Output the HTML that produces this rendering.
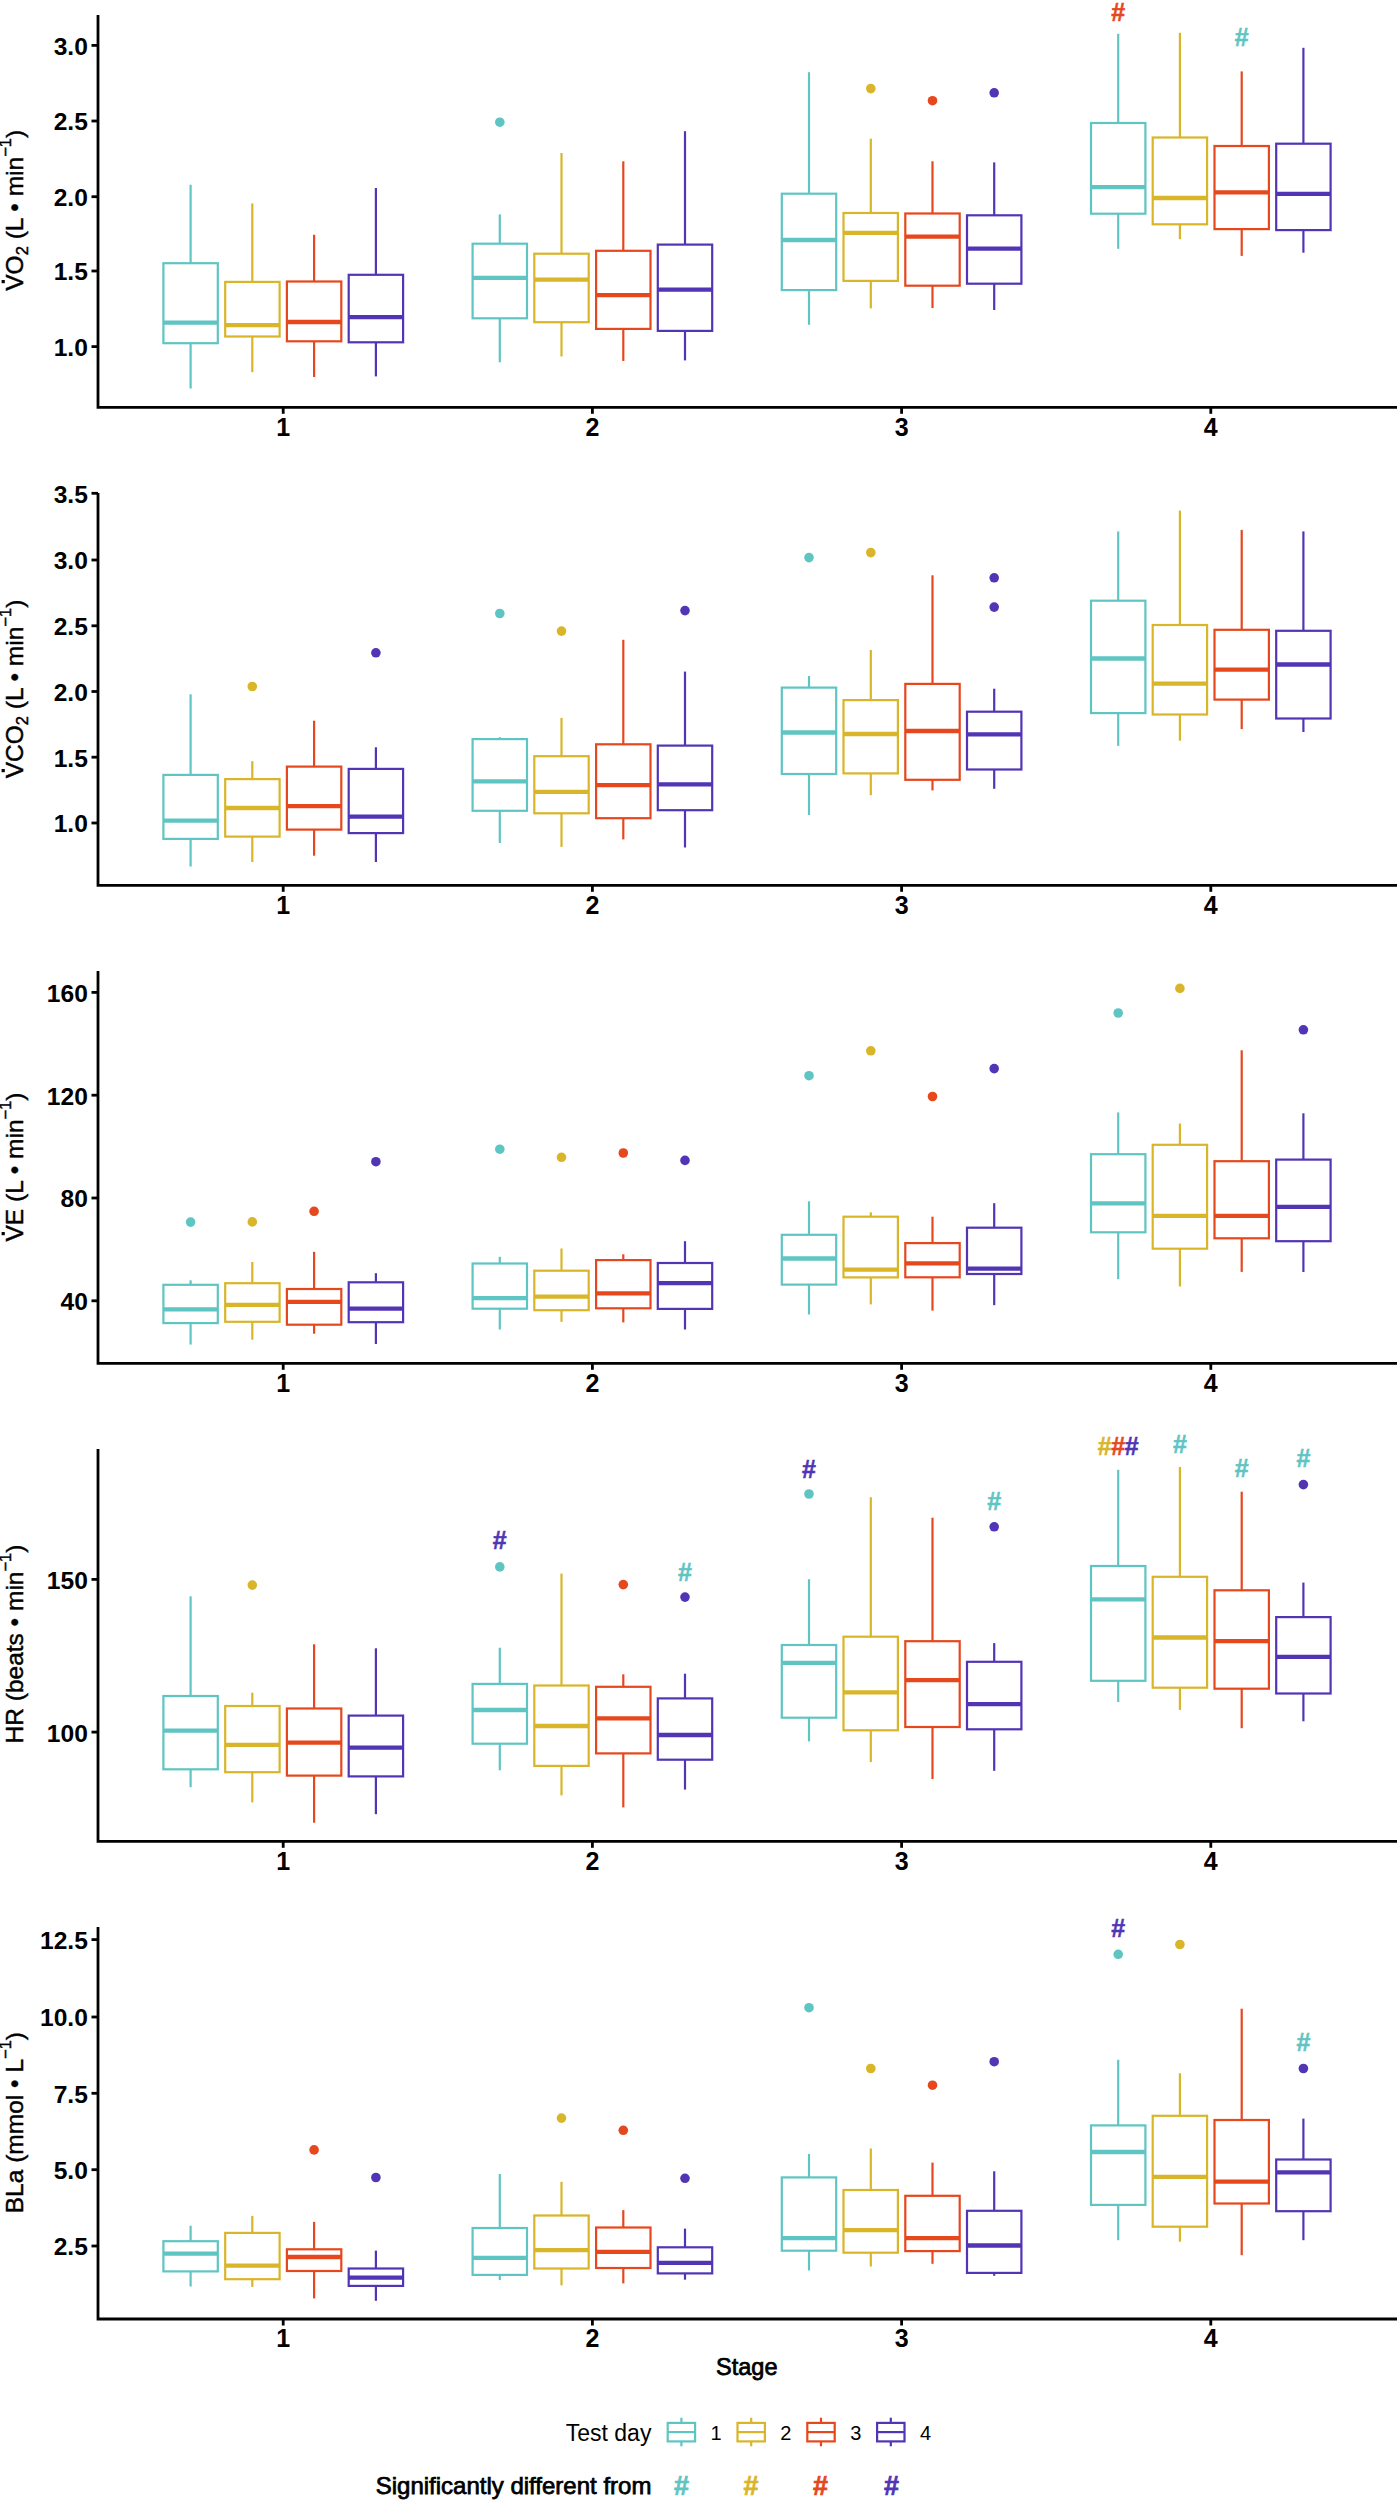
<!DOCTYPE html><html><head><meta charset="utf-8"><style>html,body{margin:0;padding:0;background:#fff;}svg{display:block;}</style></head><body>
<svg width="1400" height="2500" viewBox="0 0 1400 2500" font-family='"Liberation Sans", sans-serif'>
<rect width="1400" height="2500" fill="#fff"/>
<path d="M98.0,15 V407.3 H1397" fill="none" stroke="#000" stroke-width="2.8" stroke-linecap="butt" stroke-linejoin="miter"/>
<line x1="91.5" y1="45.4" x2="98.0" y2="45.4" stroke="#000" stroke-width="2.8"/>
<text x="87.9" y="54.8" text-anchor="end" font-size="24.6" font-weight="bold" fill="#000">3.0</text>
<line x1="91.5" y1="121" x2="98.0" y2="121" stroke="#000" stroke-width="2.8"/>
<text x="87.9" y="130.4" text-anchor="end" font-size="24.6" font-weight="bold" fill="#000">2.5</text>
<line x1="91.5" y1="196.7" x2="98.0" y2="196.7" stroke="#000" stroke-width="2.8"/>
<text x="87.9" y="206.1" text-anchor="end" font-size="24.6" font-weight="bold" fill="#000">2.0</text>
<line x1="91.5" y1="271" x2="98.0" y2="271" stroke="#000" stroke-width="2.8"/>
<text x="87.9" y="280.4" text-anchor="end" font-size="24.6" font-weight="bold" fill="#000">1.5</text>
<line x1="91.5" y1="346.6" x2="98.0" y2="346.6" stroke="#000" stroke-width="2.8"/>
<text x="87.9" y="356.0" text-anchor="end" font-size="24.6" font-weight="bold" fill="#000">1.0</text>
<line x1="283.2" y1="407.3" x2="283.2" y2="413.8" stroke="#000" stroke-width="2.8"/>
<text x="283.2" y="435.90000000000003" text-anchor="middle" font-size="25" font-weight="bold" fill="#000">1</text>
<line x1="592.4" y1="407.3" x2="592.4" y2="413.8" stroke="#000" stroke-width="2.8"/>
<text x="592.4" y="435.90000000000003" text-anchor="middle" font-size="25" font-weight="bold" fill="#000">2</text>
<line x1="901.6" y1="407.3" x2="901.6" y2="413.8" stroke="#000" stroke-width="2.8"/>
<text x="901.6" y="435.90000000000003" text-anchor="middle" font-size="25" font-weight="bold" fill="#000">3</text>
<line x1="1210.7999999999997" y1="407.3" x2="1210.7999999999997" y2="413.8" stroke="#000" stroke-width="2.8"/>
<text x="1210.7999999999997" y="435.90000000000003" text-anchor="middle" font-size="25" font-weight="bold" fill="#000">4</text>
<text id="yt0" transform="translate(23.3,210.3) rotate(-90)" text-anchor="middle" font-size="24.5" fill="#000" stroke="#000" stroke-width="0.45">VO<tspan font-size="16.5" dy="4.5">2</tspan><tspan dy="-4.5"> (L • min</tspan><tspan font-size="16.5" dy="-12">−1</tspan><tspan dy="12">)</tspan></text>
<rect x="1.6" y="280.0" width="3.2" height="3.2" fill="#000"/>
<g stroke="#5fc5c3" fill="none" stroke-width="2.2"><line x1="190.6" y1="184.7" x2="190.6" y2="263.2"/><line x1="190.6" y1="343.2" x2="190.6" y2="388.5"/><rect x="163.4" y="263.2" width="54.4" height="80.0"/><line x1="163.4" y1="322.6" x2="217.8" y2="322.6" stroke-width="4.3"/></g>
<g stroke="#d9b52a" fill="none" stroke-width="2.2"><line x1="252.3" y1="203.4" x2="252.3" y2="281.9"/><line x1="252.3" y1="336.5" x2="252.3" y2="372.2"/><rect x="225.2" y="281.9" width="54.4" height="54.6"/><line x1="225.2" y1="325.1" x2="279.6" y2="325.1" stroke-width="4.3"/></g>
<g stroke="#e6471d" fill="none" stroke-width="2.2"><line x1="314.1" y1="234.8" x2="314.1" y2="281.5"/><line x1="314.1" y1="341.3" x2="314.1" y2="377"/><rect x="286.9" y="281.5" width="54.4" height="59.8"/><line x1="286.9" y1="322" x2="341.3" y2="322" stroke-width="4.3"/></g>
<g stroke="#5135b5" fill="none" stroke-width="2.2"><line x1="375.9" y1="188" x2="375.9" y2="274.8"/><line x1="375.9" y1="342.3" x2="375.9" y2="376.4"/><rect x="348.7" y="274.8" width="54.4" height="67.5"/><line x1="348.7" y1="317.2" x2="403.1" y2="317.2" stroke-width="4.3"/></g>
<g stroke="#5fc5c3" fill="none" stroke-width="2.2"><line x1="499.8" y1="214.4" x2="499.8" y2="243.7"/><line x1="499.8" y1="318.3" x2="499.8" y2="362.3"/><rect x="472.6" y="243.7" width="54.4" height="74.6"/><line x1="472.6" y1="277.8" x2="527.0" y2="277.8" stroke-width="4.3"/></g>
<g stroke="#d9b52a" fill="none" stroke-width="2.2"><line x1="561.5" y1="153" x2="561.5" y2="253.7"/><line x1="561.5" y1="322.2" x2="561.5" y2="356.5"/><rect x="534.3" y="253.7" width="54.4" height="68.5"/><line x1="534.3" y1="279.7" x2="588.8" y2="279.7" stroke-width="4.3"/></g>
<g stroke="#e6471d" fill="none" stroke-width="2.2"><line x1="623.3" y1="161.3" x2="623.3" y2="250.8"/><line x1="623.3" y1="328.9" x2="623.3" y2="361"/><rect x="596.1" y="250.8" width="54.4" height="78.1"/><line x1="596.1" y1="295.2" x2="650.5" y2="295.2" stroke-width="4.3"/></g>
<g stroke="#5135b5" fill="none" stroke-width="2.2"><line x1="685.0" y1="131.2" x2="685.0" y2="244.6"/><line x1="685.0" y1="330.9" x2="685.0" y2="360.4"/><rect x="657.8" y="244.6" width="54.4" height="86.3"/><line x1="657.8" y1="289.6" x2="712.2" y2="289.6" stroke-width="4.3"/></g>
<g stroke="#5fc5c3" fill="none" stroke-width="2.2"><line x1="809.0" y1="72.2" x2="809.0" y2="193.7"/><line x1="809.0" y1="290.1" x2="809.0" y2="324.8"/><rect x="781.8" y="193.7" width="54.4" height="96.4"/><line x1="781.8" y1="240" x2="836.2" y2="240" stroke-width="4.3"/></g>
<g stroke="#d9b52a" fill="none" stroke-width="2.2"><line x1="870.8" y1="138.7" x2="870.8" y2="213"/><line x1="870.8" y1="280.9" x2="870.8" y2="308.4"/><rect x="843.5" y="213" width="54.4" height="67.9"/><line x1="843.5" y1="232.8" x2="898.0" y2="232.8" stroke-width="4.3"/></g>
<g stroke="#e6471d" fill="none" stroke-width="2.2"><line x1="932.5" y1="161.3" x2="932.5" y2="213.5"/><line x1="932.5" y1="285.7" x2="932.5" y2="308"/><rect x="905.3" y="213.5" width="54.4" height="72.2"/><line x1="905.3" y1="236.7" x2="959.7" y2="236.7" stroke-width="4.3"/></g>
<g stroke="#5135b5" fill="none" stroke-width="2.2"><line x1="994.2" y1="162.4" x2="994.2" y2="215.3"/><line x1="994.2" y1="283.7" x2="994.2" y2="310"/><rect x="967.0" y="215.3" width="54.4" height="68.4"/><line x1="967.0" y1="248.7" x2="1021.5" y2="248.7" stroke-width="4.3"/></g>
<g stroke="#5fc5c3" fill="none" stroke-width="2.2"><line x1="1118.2" y1="33.8" x2="1118.2" y2="123"/><line x1="1118.2" y1="213.7" x2="1118.2" y2="248.8"/><rect x="1091.0" y="123" width="54.4" height="90.7"/><line x1="1091.0" y1="187.1" x2="1145.4" y2="187.1" stroke-width="4.3"/></g>
<g stroke="#d9b52a" fill="none" stroke-width="2.2"><line x1="1179.9" y1="32.8" x2="1179.9" y2="137.5"/><line x1="1179.9" y1="224.3" x2="1179.9" y2="239.2"/><rect x="1152.7" y="137.5" width="54.4" height="86.8"/><line x1="1152.7" y1="198" x2="1207.1" y2="198" stroke-width="4.3"/></g>
<g stroke="#e6471d" fill="none" stroke-width="2.2"><line x1="1241.7" y1="71.4" x2="1241.7" y2="146"/><line x1="1241.7" y1="229.1" x2="1241.7" y2="255.9"/><rect x="1214.5" y="146" width="54.4" height="83.1"/><line x1="1214.5" y1="192.3" x2="1268.9" y2="192.3" stroke-width="4.3"/></g>
<g stroke="#5135b5" fill="none" stroke-width="2.2"><line x1="1303.4" y1="47.8" x2="1303.4" y2="143.7"/><line x1="1303.4" y1="230.1" x2="1303.4" y2="252.7"/><rect x="1276.2" y="143.7" width="54.4" height="86.4"/><line x1="1276.2" y1="193.8" x2="1330.6" y2="193.8" stroke-width="4.3"/></g>
<path d="M98.0,493 V885.3 H1397" fill="none" stroke="#000" stroke-width="2.8" stroke-linecap="butt" stroke-linejoin="miter"/>
<line x1="91.5" y1="493.3" x2="98.0" y2="493.3" stroke="#000" stroke-width="2.8"/>
<text x="87.9" y="502.7" text-anchor="end" font-size="24.6" font-weight="bold" fill="#000">3.5</text>
<line x1="91.5" y1="560" x2="98.0" y2="560" stroke="#000" stroke-width="2.8"/>
<text x="87.9" y="569.4" text-anchor="end" font-size="24.6" font-weight="bold" fill="#000">3.0</text>
<line x1="91.5" y1="625.8" x2="98.0" y2="625.8" stroke="#000" stroke-width="2.8"/>
<text x="87.9" y="635.1999999999999" text-anchor="end" font-size="24.6" font-weight="bold" fill="#000">2.5</text>
<line x1="91.5" y1="691.5" x2="98.0" y2="691.5" stroke="#000" stroke-width="2.8"/>
<text x="87.9" y="700.9" text-anchor="end" font-size="24.6" font-weight="bold" fill="#000">2.0</text>
<line x1="91.5" y1="757.2" x2="98.0" y2="757.2" stroke="#000" stroke-width="2.8"/>
<text x="87.9" y="766.6" text-anchor="end" font-size="24.6" font-weight="bold" fill="#000">1.5</text>
<line x1="91.5" y1="823" x2="98.0" y2="823" stroke="#000" stroke-width="2.8"/>
<text x="87.9" y="832.4" text-anchor="end" font-size="24.6" font-weight="bold" fill="#000">1.0</text>
<line x1="283.2" y1="885.3" x2="283.2" y2="891.8" stroke="#000" stroke-width="2.8"/>
<text x="283.2" y="913.9" text-anchor="middle" font-size="25" font-weight="bold" fill="#000">1</text>
<line x1="592.4" y1="885.3" x2="592.4" y2="891.8" stroke="#000" stroke-width="2.8"/>
<text x="592.4" y="913.9" text-anchor="middle" font-size="25" font-weight="bold" fill="#000">2</text>
<line x1="901.6" y1="885.3" x2="901.6" y2="891.8" stroke="#000" stroke-width="2.8"/>
<text x="901.6" y="913.9" text-anchor="middle" font-size="25" font-weight="bold" fill="#000">3</text>
<line x1="1210.7999999999997" y1="885.3" x2="1210.7999999999997" y2="891.8" stroke="#000" stroke-width="2.8"/>
<text x="1210.7999999999997" y="913.9" text-anchor="middle" font-size="25" font-weight="bold" fill="#000">4</text>
<text id="yt1" transform="translate(23.3,689) rotate(-90)" text-anchor="middle" font-size="24.5" fill="#000" stroke="#000" stroke-width="0.45">VCO<tspan font-size="16.5" dy="4.5">2</tspan><tspan dy="-4.5"> (L • min</tspan><tspan font-size="16.5" dy="-12">−1</tspan><tspan dy="12">)</tspan></text>
<rect x="1.6" y="769.0" width="3.2" height="3.2" fill="#000"/>
<g stroke="#5fc5c3" fill="none" stroke-width="2.2"><line x1="190.6" y1="694.3" x2="190.6" y2="774.9"/><line x1="190.6" y1="838.9" x2="190.6" y2="866.5"/><rect x="163.4" y="774.9" width="54.4" height="64.0"/><line x1="163.4" y1="820.6" x2="217.8" y2="820.6" stroke-width="4.3"/></g>
<g stroke="#d9b52a" fill="none" stroke-width="2.2"><line x1="252.3" y1="761.2" x2="252.3" y2="779.1"/><line x1="252.3" y1="836.6" x2="252.3" y2="862"/><rect x="225.2" y="779.1" width="54.4" height="57.5"/><line x1="225.2" y1="808" x2="279.6" y2="808" stroke-width="4.3"/></g>
<g stroke="#e6471d" fill="none" stroke-width="2.2"><line x1="314.1" y1="720.7" x2="314.1" y2="766.6"/><line x1="314.1" y1="829.6" x2="314.1" y2="855.7"/><rect x="286.9" y="766.6" width="54.4" height="63.0"/><line x1="286.9" y1="806.1" x2="341.3" y2="806.1" stroke-width="4.3"/></g>
<g stroke="#5135b5" fill="none" stroke-width="2.2"><line x1="375.9" y1="747.3" x2="375.9" y2="768.9"/><line x1="375.9" y1="833.1" x2="375.9" y2="862"/><rect x="348.7" y="768.9" width="54.4" height="64.2"/><line x1="348.7" y1="816.7" x2="403.1" y2="816.7" stroke-width="4.3"/></g>
<g stroke="#5fc5c3" fill="none" stroke-width="2.2"><line x1="499.8" y1="737.2" x2="499.8" y2="739.1"/><line x1="499.8" y1="810.8" x2="499.8" y2="843"/><rect x="472.6" y="739.1" width="54.4" height="71.7"/><line x1="472.6" y1="781.3" x2="527.0" y2="781.3" stroke-width="4.3"/></g>
<g stroke="#d9b52a" fill="none" stroke-width="2.2"><line x1="561.5" y1="717.9" x2="561.5" y2="756.2"/><line x1="561.5" y1="813.3" x2="561.5" y2="846.9"/><rect x="534.3" y="756.2" width="54.4" height="57.1"/><line x1="534.3" y1="791.9" x2="588.8" y2="791.9" stroke-width="4.3"/></g>
<g stroke="#e6471d" fill="none" stroke-width="2.2"><line x1="623.3" y1="639.8" x2="623.3" y2="744.3"/><line x1="623.3" y1="818.2" x2="623.3" y2="839.4"/><rect x="596.1" y="744.3" width="54.4" height="73.9"/><line x1="596.1" y1="785.2" x2="650.5" y2="785.2" stroke-width="4.3"/></g>
<g stroke="#5135b5" fill="none" stroke-width="2.2"><line x1="685.0" y1="671.6" x2="685.0" y2="745.6"/><line x1="685.0" y1="810.2" x2="685.0" y2="847.5"/><rect x="657.8" y="745.6" width="54.4" height="64.6"/><line x1="657.8" y1="784.4" x2="712.2" y2="784.4" stroke-width="4.3"/></g>
<g stroke="#5fc5c3" fill="none" stroke-width="2.2"><line x1="809.0" y1="676" x2="809.0" y2="687.6"/><line x1="809.0" y1="774" x2="809.0" y2="815"/><rect x="781.8" y="687.6" width="54.4" height="86.4"/><line x1="781.8" y1="732.5" x2="836.2" y2="732.5" stroke-width="4.3"/></g>
<g stroke="#d9b52a" fill="none" stroke-width="2.2"><line x1="870.8" y1="650" x2="870.8" y2="700.1"/><line x1="870.8" y1="773.4" x2="870.8" y2="795.2"/><rect x="843.5" y="700.1" width="54.4" height="73.3"/><line x1="843.5" y1="734" x2="898.0" y2="734" stroke-width="4.3"/></g>
<g stroke="#e6471d" fill="none" stroke-width="2.2"><line x1="932.5" y1="575.3" x2="932.5" y2="683.9"/><line x1="932.5" y1="779.8" x2="932.5" y2="790.4"/><rect x="905.3" y="683.9" width="54.4" height="95.9"/><line x1="905.3" y1="731" x2="959.7" y2="731" stroke-width="4.3"/></g>
<g stroke="#5135b5" fill="none" stroke-width="2.2"><line x1="994.2" y1="688.7" x2="994.2" y2="711.7"/><line x1="994.2" y1="769.5" x2="994.2" y2="788.8"/><rect x="967.0" y="711.7" width="54.4" height="57.8"/><line x1="967.0" y1="734.4" x2="1021.5" y2="734.4" stroke-width="4.3"/></g>
<g stroke="#5fc5c3" fill="none" stroke-width="2.2"><line x1="1118.2" y1="531.4" x2="1118.2" y2="600.7"/><line x1="1118.2" y1="713.1" x2="1118.2" y2="745.9"/><rect x="1091.0" y="600.7" width="54.4" height="112.4"/><line x1="1091.0" y1="658.5" x2="1145.4" y2="658.5" stroke-width="4.3"/></g>
<g stroke="#d9b52a" fill="none" stroke-width="2.2"><line x1="1179.9" y1="510.6" x2="1179.9" y2="625"/><line x1="1179.9" y1="714.5" x2="1179.9" y2="740.7"/><rect x="1152.7" y="625" width="54.4" height="89.5"/><line x1="1152.7" y1="683.6" x2="1207.1" y2="683.6" stroke-width="4.3"/></g>
<g stroke="#e6471d" fill="none" stroke-width="2.2"><line x1="1241.7" y1="529.9" x2="1241.7" y2="629.8"/><line x1="1241.7" y1="699.6" x2="1241.7" y2="729.1"/><rect x="1214.5" y="629.8" width="54.4" height="69.8"/><line x1="1214.5" y1="669.7" x2="1268.9" y2="669.7" stroke-width="4.3"/></g>
<g stroke="#5135b5" fill="none" stroke-width="2.2"><line x1="1303.4" y1="531.4" x2="1303.4" y2="630.8"/><line x1="1303.4" y1="718.5" x2="1303.4" y2="732"/><rect x="1276.2" y="630.8" width="54.4" height="87.7"/><line x1="1276.2" y1="664.5" x2="1330.6" y2="664.5" stroke-width="4.3"/></g>
<path d="M98.0,971 V1363.3 H1397" fill="none" stroke="#000" stroke-width="2.8" stroke-linecap="butt" stroke-linejoin="miter"/>
<line x1="91.5" y1="992.4" x2="98.0" y2="992.4" stroke="#000" stroke-width="2.8"/>
<text x="87.9" y="1001.8" text-anchor="end" font-size="24.6" font-weight="bold" fill="#000">160</text>
<line x1="91.5" y1="1095.2" x2="98.0" y2="1095.2" stroke="#000" stroke-width="2.8"/>
<text x="87.9" y="1104.6000000000001" text-anchor="end" font-size="24.6" font-weight="bold" fill="#000">120</text>
<line x1="91.5" y1="1198" x2="98.0" y2="1198" stroke="#000" stroke-width="2.8"/>
<text x="87.9" y="1207.4" text-anchor="end" font-size="24.6" font-weight="bold" fill="#000">80</text>
<line x1="91.5" y1="1300.8" x2="98.0" y2="1300.8" stroke="#000" stroke-width="2.8"/>
<text x="87.9" y="1310.2" text-anchor="end" font-size="24.6" font-weight="bold" fill="#000">40</text>
<line x1="283.2" y1="1363.3" x2="283.2" y2="1369.8" stroke="#000" stroke-width="2.8"/>
<text x="283.2" y="1391.8999999999999" text-anchor="middle" font-size="25" font-weight="bold" fill="#000">1</text>
<line x1="592.4" y1="1363.3" x2="592.4" y2="1369.8" stroke="#000" stroke-width="2.8"/>
<text x="592.4" y="1391.8999999999999" text-anchor="middle" font-size="25" font-weight="bold" fill="#000">2</text>
<line x1="901.6" y1="1363.3" x2="901.6" y2="1369.8" stroke="#000" stroke-width="2.8"/>
<text x="901.6" y="1391.8999999999999" text-anchor="middle" font-size="25" font-weight="bold" fill="#000">3</text>
<line x1="1210.7999999999997" y1="1363.3" x2="1210.7999999999997" y2="1369.8" stroke="#000" stroke-width="2.8"/>
<text x="1210.7999999999997" y="1391.8999999999999" text-anchor="middle" font-size="25" font-weight="bold" fill="#000">4</text>
<text id="yt2" transform="translate(23.3,1167) rotate(-90)" text-anchor="middle" font-size="24.5" fill="#000" stroke="#000" stroke-width="0.45">VE (L • min<tspan font-size="16.5" dy="-12">−1</tspan><tspan dy="12">)</tspan></text>
<rect x="1.6" y="1232.0" width="3.2" height="3.2" fill="#000"/>
<g stroke="#5fc5c3" fill="none" stroke-width="2.2"><line x1="190.6" y1="1280.3" x2="190.6" y2="1284.8"/><line x1="190.6" y1="1323.1" x2="190.6" y2="1344.6"/><rect x="163.4" y="1284.8" width="54.4" height="38.3"/><line x1="163.4" y1="1309.3" x2="217.8" y2="1309.3" stroke-width="4.3"/></g>
<g stroke="#d9b52a" fill="none" stroke-width="2.2"><line x1="252.3" y1="1262" x2="252.3" y2="1283.2"/><line x1="252.3" y1="1321.8" x2="252.3" y2="1339.7"/><rect x="225.2" y="1283.2" width="54.4" height="38.6"/><line x1="225.2" y1="1304.8" x2="279.6" y2="1304.8" stroke-width="4.3"/></g>
<g stroke="#e6471d" fill="none" stroke-width="2.2"><line x1="314.1" y1="1251.8" x2="314.1" y2="1289"/><line x1="314.1" y1="1324.7" x2="314.1" y2="1333.7"/><rect x="286.9" y="1289" width="54.4" height="35.7"/><line x1="286.9" y1="1301.9" x2="341.3" y2="1301.9" stroke-width="4.3"/></g>
<g stroke="#5135b5" fill="none" stroke-width="2.2"><line x1="375.9" y1="1273.2" x2="375.9" y2="1282.3"/><line x1="375.9" y1="1322.2" x2="375.9" y2="1344"/><rect x="348.7" y="1282.3" width="54.4" height="39.9"/><line x1="348.7" y1="1308.7" x2="403.1" y2="1308.7" stroke-width="4.3"/></g>
<g stroke="#5fc5c3" fill="none" stroke-width="2.2"><line x1="499.8" y1="1256.8" x2="499.8" y2="1263.5"/><line x1="499.8" y1="1308.7" x2="499.8" y2="1329.5"/><rect x="472.6" y="1263.5" width="54.4" height="45.2"/><line x1="472.6" y1="1298.1" x2="527.0" y2="1298.1" stroke-width="4.3"/></g>
<g stroke="#d9b52a" fill="none" stroke-width="2.2"><line x1="561.5" y1="1248.5" x2="561.5" y2="1270.7"/><line x1="561.5" y1="1310.2" x2="561.5" y2="1321.8"/><rect x="534.3" y="1270.7" width="54.4" height="39.5"/><line x1="534.3" y1="1296.7" x2="588.8" y2="1296.7" stroke-width="4.3"/></g>
<g stroke="#e6471d" fill="none" stroke-width="2.2"><line x1="623.3" y1="1254.3" x2="623.3" y2="1260.1"/><line x1="623.3" y1="1308.3" x2="623.3" y2="1322.4"/><rect x="596.1" y="1260.1" width="54.4" height="48.2"/><line x1="596.1" y1="1293.4" x2="650.5" y2="1293.4" stroke-width="4.3"/></g>
<g stroke="#5135b5" fill="none" stroke-width="2.2"><line x1="685.0" y1="1241.2" x2="685.0" y2="1263"/><line x1="685.0" y1="1308.9" x2="685.0" y2="1329.5"/><rect x="657.8" y="1263" width="54.4" height="45.9"/><line x1="657.8" y1="1283.2" x2="712.2" y2="1283.2" stroke-width="4.3"/></g>
<g stroke="#5fc5c3" fill="none" stroke-width="2.2"><line x1="809.0" y1="1201.3" x2="809.0" y2="1234.8"/><line x1="809.0" y1="1284.6" x2="809.0" y2="1314.5"/><rect x="781.8" y="1234.8" width="54.4" height="49.8"/><line x1="781.8" y1="1258.5" x2="836.2" y2="1258.5" stroke-width="4.3"/></g>
<g stroke="#d9b52a" fill="none" stroke-width="2.2"><line x1="870.8" y1="1212.3" x2="870.8" y2="1216.7"/><line x1="870.8" y1="1277.4" x2="870.8" y2="1304.4"/><rect x="843.5" y="1216.7" width="54.4" height="60.7"/><line x1="843.5" y1="1269.7" x2="898.0" y2="1269.7" stroke-width="4.3"/></g>
<g stroke="#e6471d" fill="none" stroke-width="2.2"><line x1="932.5" y1="1216.7" x2="932.5" y2="1243.1"/><line x1="932.5" y1="1277.3" x2="932.5" y2="1310.6"/><rect x="905.3" y="1243.1" width="54.4" height="34.2"/><line x1="905.3" y1="1263.4" x2="959.7" y2="1263.4" stroke-width="4.3"/></g>
<g stroke="#5135b5" fill="none" stroke-width="2.2"><line x1="994.2" y1="1203.2" x2="994.2" y2="1227.7"/><line x1="994.2" y1="1274" x2="994.2" y2="1305.2"/><rect x="967.0" y="1227.7" width="54.4" height="46.3"/><line x1="967.0" y1="1268.6" x2="1021.5" y2="1268.6" stroke-width="4.3"/></g>
<g stroke="#5fc5c3" fill="none" stroke-width="2.2"><line x1="1118.2" y1="1112.4" x2="1118.2" y2="1154.2"/><line x1="1118.2" y1="1232.3" x2="1118.2" y2="1279.2"/><rect x="1091.0" y="1154.2" width="54.4" height="78.1"/><line x1="1091.0" y1="1203.4" x2="1145.4" y2="1203.4" stroke-width="4.3"/></g>
<g stroke="#d9b52a" fill="none" stroke-width="2.2"><line x1="1179.9" y1="1123.5" x2="1179.9" y2="1144.8"/><line x1="1179.9" y1="1248.7" x2="1179.9" y2="1286.5"/><rect x="1152.7" y="1144.8" width="54.4" height="103.9"/><line x1="1152.7" y1="1215.9" x2="1207.1" y2="1215.9" stroke-width="4.3"/></g>
<g stroke="#e6471d" fill="none" stroke-width="2.2"><line x1="1241.7" y1="1050.3" x2="1241.7" y2="1161.2"/><line x1="1241.7" y1="1238.3" x2="1241.7" y2="1271.9"/><rect x="1214.5" y="1161.2" width="54.4" height="77.1"/><line x1="1214.5" y1="1215.9" x2="1268.9" y2="1215.9" stroke-width="4.3"/></g>
<g stroke="#5135b5" fill="none" stroke-width="2.2"><line x1="1303.4" y1="1113.3" x2="1303.4" y2="1159.6"/><line x1="1303.4" y1="1241.2" x2="1303.4" y2="1272"/><rect x="1276.2" y="1159.6" width="54.4" height="81.6"/><line x1="1276.2" y1="1206.9" x2="1330.6" y2="1206.9" stroke-width="4.3"/></g>
<path d="M98.0,1449 V1841.3 H1397" fill="none" stroke="#000" stroke-width="2.8" stroke-linecap="butt" stroke-linejoin="miter"/>
<line x1="91.5" y1="1579.4" x2="98.0" y2="1579.4" stroke="#000" stroke-width="2.8"/>
<text x="87.9" y="1588.8000000000002" text-anchor="end" font-size="24.6" font-weight="bold" fill="#000">150</text>
<line x1="91.5" y1="1732.1" x2="98.0" y2="1732.1" stroke="#000" stroke-width="2.8"/>
<text x="87.9" y="1741.5" text-anchor="end" font-size="24.6" font-weight="bold" fill="#000">100</text>
<line x1="283.2" y1="1841.3" x2="283.2" y2="1847.8" stroke="#000" stroke-width="2.8"/>
<text x="283.2" y="1869.8999999999999" text-anchor="middle" font-size="25" font-weight="bold" fill="#000">1</text>
<line x1="592.4" y1="1841.3" x2="592.4" y2="1847.8" stroke="#000" stroke-width="2.8"/>
<text x="592.4" y="1869.8999999999999" text-anchor="middle" font-size="25" font-weight="bold" fill="#000">2</text>
<line x1="901.6" y1="1841.3" x2="901.6" y2="1847.8" stroke="#000" stroke-width="2.8"/>
<text x="901.6" y="1869.8999999999999" text-anchor="middle" font-size="25" font-weight="bold" fill="#000">3</text>
<line x1="1210.7999999999997" y1="1841.3" x2="1210.7999999999997" y2="1847.8" stroke="#000" stroke-width="2.8"/>
<text x="1210.7999999999997" y="1869.8999999999999" text-anchor="middle" font-size="25" font-weight="bold" fill="#000">4</text>
<text id="yt3" transform="translate(23.3,1644) rotate(-90)" text-anchor="middle" font-size="24.5" fill="#000" stroke="#000" stroke-width="0.45">HR (beats • min<tspan font-size="16.5" dy="-12">−1</tspan><tspan dy="12">)</tspan></text>
<g stroke="#5fc5c3" fill="none" stroke-width="2.2"><line x1="190.6" y1="1596.3" x2="190.6" y2="1696"/><line x1="190.6" y1="1769.3" x2="190.6" y2="1787.2"/><rect x="163.4" y="1696" width="54.4" height="73.3"/><line x1="163.4" y1="1730.7" x2="217.8" y2="1730.7" stroke-width="4.3"/></g>
<g stroke="#d9b52a" fill="none" stroke-width="2.2"><line x1="252.3" y1="1692.7" x2="252.3" y2="1706"/><line x1="252.3" y1="1772.2" x2="252.3" y2="1802.4"/><rect x="225.2" y="1706" width="54.4" height="66.2"/><line x1="225.2" y1="1744.8" x2="279.6" y2="1744.8" stroke-width="4.3"/></g>
<g stroke="#e6471d" fill="none" stroke-width="2.2"><line x1="314.1" y1="1644.3" x2="314.1" y2="1708.5"/><line x1="314.1" y1="1775.6" x2="314.1" y2="1822.7"/><rect x="286.9" y="1708.5" width="54.4" height="67.1"/><line x1="286.9" y1="1742.6" x2="341.3" y2="1742.6" stroke-width="4.3"/></g>
<g stroke="#5135b5" fill="none" stroke-width="2.2"><line x1="375.9" y1="1648.3" x2="375.9" y2="1715.6"/><line x1="375.9" y1="1776.4" x2="375.9" y2="1814.2"/><rect x="348.7" y="1715.6" width="54.4" height="60.8"/><line x1="348.7" y1="1747.7" x2="403.1" y2="1747.7" stroke-width="4.3"/></g>
<g stroke="#5fc5c3" fill="none" stroke-width="2.2"><line x1="499.8" y1="1647.7" x2="499.8" y2="1683.9"/><line x1="499.8" y1="1743.7" x2="499.8" y2="1770.3"/><rect x="472.6" y="1683.9" width="54.4" height="59.8"/><line x1="472.6" y1="1710" x2="527.0" y2="1710" stroke-width="4.3"/></g>
<g stroke="#d9b52a" fill="none" stroke-width="2.2"><line x1="561.5" y1="1573.6" x2="561.5" y2="1685.5"/><line x1="561.5" y1="1765.9" x2="561.5" y2="1795.4"/><rect x="534.3" y="1685.5" width="54.4" height="80.4"/><line x1="534.3" y1="1726" x2="588.8" y2="1726" stroke-width="4.3"/></g>
<g stroke="#e6471d" fill="none" stroke-width="2.2"><line x1="623.3" y1="1674.3" x2="623.3" y2="1686.8"/><line x1="623.3" y1="1753.4" x2="623.3" y2="1807.4"/><rect x="596.1" y="1686.8" width="54.4" height="66.6"/><line x1="596.1" y1="1718.3" x2="650.5" y2="1718.3" stroke-width="4.3"/></g>
<g stroke="#5135b5" fill="none" stroke-width="2.2"><line x1="685.0" y1="1673.7" x2="685.0" y2="1698.4"/><line x1="685.0" y1="1759.7" x2="685.0" y2="1789.6"/><rect x="657.8" y="1698.4" width="54.4" height="61.3"/><line x1="657.8" y1="1735" x2="712.2" y2="1735" stroke-width="4.3"/></g>
<g stroke="#5fc5c3" fill="none" stroke-width="2.2"><line x1="809.0" y1="1579.2" x2="809.0" y2="1645"/><line x1="809.0" y1="1717.7" x2="809.0" y2="1741.4"/><rect x="781.8" y="1645" width="54.4" height="72.7"/><line x1="781.8" y1="1662.8" x2="836.2" y2="1662.8" stroke-width="4.3"/></g>
<g stroke="#d9b52a" fill="none" stroke-width="2.2"><line x1="870.8" y1="1497.3" x2="870.8" y2="1636.7"/><line x1="870.8" y1="1730.3" x2="870.8" y2="1762.1"/><rect x="843.5" y="1636.7" width="54.4" height="93.6"/><line x1="843.5" y1="1692.3" x2="898.0" y2="1692.3" stroke-width="4.3"/></g>
<g stroke="#e6471d" fill="none" stroke-width="2.2"><line x1="932.5" y1="1517.7" x2="932.5" y2="1641.2"/><line x1="932.5" y1="1727" x2="932.5" y2="1779"/><rect x="905.3" y="1641.2" width="54.4" height="85.8"/><line x1="905.3" y1="1680.1" x2="959.7" y2="1680.1" stroke-width="4.3"/></g>
<g stroke="#5135b5" fill="none" stroke-width="2.2"><line x1="994.2" y1="1643.1" x2="994.2" y2="1661.8"/><line x1="994.2" y1="1729.3" x2="994.2" y2="1770.8"/><rect x="967.0" y="1661.8" width="54.4" height="67.5"/><line x1="967.0" y1="1704.2" x2="1021.5" y2="1704.2" stroke-width="4.3"/></g>
<g stroke="#5fc5c3" fill="none" stroke-width="2.2"><line x1="1118.2" y1="1469.8" x2="1118.2" y2="1566"/><line x1="1118.2" y1="1680.8" x2="1118.2" y2="1702"/><rect x="1091.0" y="1566" width="54.4" height="114.8"/><line x1="1091.0" y1="1599.4" x2="1145.4" y2="1599.4" stroke-width="4.3"/></g>
<g stroke="#d9b52a" fill="none" stroke-width="2.2"><line x1="1179.9" y1="1466.9" x2="1179.9" y2="1576.8"/><line x1="1179.9" y1="1687.7" x2="1179.9" y2="1709.9"/><rect x="1152.7" y="1576.8" width="54.4" height="110.9"/><line x1="1152.7" y1="1637.5" x2="1207.1" y2="1637.5" stroke-width="4.3"/></g>
<g stroke="#e6471d" fill="none" stroke-width="2.2"><line x1="1241.7" y1="1491.7" x2="1241.7" y2="1590.3"/><line x1="1241.7" y1="1688.7" x2="1241.7" y2="1728.2"/><rect x="1214.5" y="1590.3" width="54.4" height="98.4"/><line x1="1214.5" y1="1641.2" x2="1268.9" y2="1641.2" stroke-width="4.3"/></g>
<g stroke="#5135b5" fill="none" stroke-width="2.2"><line x1="1303.4" y1="1582.6" x2="1303.4" y2="1617.1"/><line x1="1303.4" y1="1693.5" x2="1303.4" y2="1721.3"/><rect x="1276.2" y="1617.1" width="54.4" height="76.4"/><line x1="1276.2" y1="1656.8" x2="1330.6" y2="1656.8" stroke-width="4.3"/></g>
<path d="M98.0,1927 V2319 H1397" fill="none" stroke="#000" stroke-width="2.8" stroke-linecap="butt" stroke-linejoin="miter"/>
<line x1="91.5" y1="1939.6" x2="98.0" y2="1939.6" stroke="#000" stroke-width="2.8"/>
<text x="87.9" y="1949.0" text-anchor="end" font-size="24.6" font-weight="bold" fill="#000">12.5</text>
<line x1="91.5" y1="2017" x2="98.0" y2="2017" stroke="#000" stroke-width="2.8"/>
<text x="87.9" y="2026.4" text-anchor="end" font-size="24.6" font-weight="bold" fill="#000">10.0</text>
<line x1="91.5" y1="2093.3" x2="98.0" y2="2093.3" stroke="#000" stroke-width="2.8"/>
<text x="87.9" y="2102.7000000000003" text-anchor="end" font-size="24.6" font-weight="bold" fill="#000">7.5</text>
<line x1="91.5" y1="2169.7" x2="98.0" y2="2169.7" stroke="#000" stroke-width="2.8"/>
<text x="87.9" y="2179.1" text-anchor="end" font-size="24.6" font-weight="bold" fill="#000">5.0</text>
<line x1="91.5" y1="2246" x2="98.0" y2="2246" stroke="#000" stroke-width="2.8"/>
<text x="87.9" y="2255.4" text-anchor="end" font-size="24.6" font-weight="bold" fill="#000">2.5</text>
<line x1="283.2" y1="2319" x2="283.2" y2="2325.5" stroke="#000" stroke-width="2.8"/>
<text x="283.2" y="2346.6" text-anchor="middle" font-size="25" font-weight="bold" fill="#000">1</text>
<line x1="592.4" y1="2319" x2="592.4" y2="2325.5" stroke="#000" stroke-width="2.8"/>
<text x="592.4" y="2346.6" text-anchor="middle" font-size="25" font-weight="bold" fill="#000">2</text>
<line x1="901.6" y1="2319" x2="901.6" y2="2325.5" stroke="#000" stroke-width="2.8"/>
<text x="901.6" y="2346.6" text-anchor="middle" font-size="25" font-weight="bold" fill="#000">3</text>
<line x1="1210.7999999999997" y1="2319" x2="1210.7999999999997" y2="2325.5" stroke="#000" stroke-width="2.8"/>
<text x="1210.7999999999997" y="2346.6" text-anchor="middle" font-size="25" font-weight="bold" fill="#000">4</text>
<text id="yt4" transform="translate(23.3,2122.6) rotate(-90)" text-anchor="middle" font-size="24.5" fill="#000" stroke="#000" stroke-width="0.45">BLa (mmol • L<tspan font-size="16.5" dy="-12">−1</tspan><tspan dy="12">)</tspan></text>
<g stroke="#5fc5c3" fill="none" stroke-width="2.2"><line x1="190.6" y1="2225.7" x2="190.6" y2="2241.2"/><line x1="190.6" y1="2271.4" x2="190.6" y2="2286.5"/><rect x="163.4" y="2241.2" width="54.4" height="30.2"/><line x1="163.4" y1="2253.7" x2="217.8" y2="2253.7" stroke-width="4.3"/></g>
<g stroke="#d9b52a" fill="none" stroke-width="2.2"><line x1="252.3" y1="2215.9" x2="252.3" y2="2232.9"/><line x1="252.3" y1="2279.2" x2="252.3" y2="2286.9"/><rect x="225.2" y="2232.9" width="54.4" height="46.3"/><line x1="225.2" y1="2265.6" x2="279.6" y2="2265.6" stroke-width="4.3"/></g>
<g stroke="#e6471d" fill="none" stroke-width="2.2"><line x1="314.1" y1="2221.9" x2="314.1" y2="2249.3"/><line x1="314.1" y1="2271" x2="314.1" y2="2298.4"/><rect x="286.9" y="2249.3" width="54.4" height="21.7"/><line x1="286.9" y1="2257" x2="341.3" y2="2257" stroke-width="4.3"/></g>
<g stroke="#5135b5" fill="none" stroke-width="2.2"><line x1="375.9" y1="2250.6" x2="375.9" y2="2268.5"/><line x1="375.9" y1="2285.9" x2="375.9" y2="2300.8"/><rect x="348.7" y="2268.5" width="54.4" height="17.4"/><line x1="348.7" y1="2277.6" x2="403.1" y2="2277.6" stroke-width="4.3"/></g>
<g stroke="#5fc5c3" fill="none" stroke-width="2.2"><line x1="499.8" y1="2174" x2="499.8" y2="2228"/><line x1="499.8" y1="2274.9" x2="499.8" y2="2280.1"/><rect x="472.6" y="2228" width="54.4" height="46.9"/><line x1="472.6" y1="2257.9" x2="527.0" y2="2257.9" stroke-width="4.3"/></g>
<g stroke="#d9b52a" fill="none" stroke-width="2.2"><line x1="561.5" y1="2181.8" x2="561.5" y2="2215.5"/><line x1="561.5" y1="2268.5" x2="561.5" y2="2285.3"/><rect x="534.3" y="2215.5" width="54.4" height="53.0"/><line x1="534.3" y1="2250.2" x2="588.8" y2="2250.2" stroke-width="4.3"/></g>
<g stroke="#e6471d" fill="none" stroke-width="2.2"><line x1="623.3" y1="2210.1" x2="623.3" y2="2227.5"/><line x1="623.3" y1="2268" x2="623.3" y2="2283.4"/><rect x="596.1" y="2227.5" width="54.4" height="40.5"/><line x1="596.1" y1="2251.8" x2="650.5" y2="2251.8" stroke-width="4.3"/></g>
<g stroke="#5135b5" fill="none" stroke-width="2.2"><line x1="685.0" y1="2228.6" x2="685.0" y2="2247.3"/><line x1="685.0" y1="2273.4" x2="685.0" y2="2279.7"/><rect x="657.8" y="2247.3" width="54.4" height="26.1"/><line x1="657.8" y1="2262.8" x2="712.2" y2="2262.8" stroke-width="4.3"/></g>
<g stroke="#5fc5c3" fill="none" stroke-width="2.2"><line x1="809.0" y1="2153.9" x2="809.0" y2="2177.4"/><line x1="809.0" y1="2250.7" x2="809.0" y2="2270.4"/><rect x="781.8" y="2177.4" width="54.4" height="73.3"/><line x1="781.8" y1="2238.2" x2="836.2" y2="2238.2" stroke-width="4.3"/></g>
<g stroke="#d9b52a" fill="none" stroke-width="2.2"><line x1="870.8" y1="2148.5" x2="870.8" y2="2190"/><line x1="870.8" y1="2252.7" x2="870.8" y2="2266.5"/><rect x="843.5" y="2190" width="54.4" height="62.7"/><line x1="843.5" y1="2230.1" x2="898.0" y2="2230.1" stroke-width="4.3"/></g>
<g stroke="#e6471d" fill="none" stroke-width="2.2"><line x1="932.5" y1="2162.6" x2="932.5" y2="2195.8"/><line x1="932.5" y1="2251.1" x2="932.5" y2="2263.8"/><rect x="905.3" y="2195.8" width="54.4" height="55.3"/><line x1="905.3" y1="2238.2" x2="959.7" y2="2238.2" stroke-width="4.3"/></g>
<g stroke="#5135b5" fill="none" stroke-width="2.2"><line x1="994.2" y1="2171.3" x2="994.2" y2="2210.8"/><line x1="994.2" y1="2272.9" x2="994.2" y2="2275.8"/><rect x="967.0" y="2210.8" width="54.4" height="62.1"/><line x1="967.0" y1="2245.5" x2="1021.5" y2="2245.5" stroke-width="4.3"/></g>
<g stroke="#5fc5c3" fill="none" stroke-width="2.2"><line x1="1118.2" y1="2059.8" x2="1118.2" y2="2125.4"/><line x1="1118.2" y1="2204.9" x2="1118.2" y2="2240.2"/><rect x="1091.0" y="2125.4" width="54.4" height="79.5"/><line x1="1091.0" y1="2152" x2="1145.4" y2="2152" stroke-width="4.3"/></g>
<g stroke="#d9b52a" fill="none" stroke-width="2.2"><line x1="1179.9" y1="2073.3" x2="1179.9" y2="2115.8"/><line x1="1179.9" y1="2226.7" x2="1179.9" y2="2241.7"/><rect x="1152.7" y="2115.8" width="54.4" height="110.9"/><line x1="1152.7" y1="2176.9" x2="1207.1" y2="2176.9" stroke-width="4.3"/></g>
<g stroke="#e6471d" fill="none" stroke-width="2.2"><line x1="1241.7" y1="2008.7" x2="1241.7" y2="2120"/><line x1="1241.7" y1="2203.5" x2="1241.7" y2="2255.2"/><rect x="1214.5" y="2120" width="54.4" height="83.5"/><line x1="1214.5" y1="2181.7" x2="1268.9" y2="2181.7" stroke-width="4.3"/></g>
<g stroke="#5135b5" fill="none" stroke-width="2.2"><line x1="1303.4" y1="2118.6" x2="1303.4" y2="2159.5"/><line x1="1303.4" y1="2211.2" x2="1303.4" y2="2240.2"/><rect x="1276.2" y="2159.5" width="54.4" height="51.7"/><line x1="1276.2" y1="2172.3" x2="1330.6" y2="2172.3" stroke-width="4.3"/></g>
<circle cx="499.8" cy="122.2" r="4.8" fill="#5fc5c3"/>
<circle cx="870.8" cy="88.6" r="4.8" fill="#d9b52a"/>
<circle cx="932.5" cy="100.7" r="4.8" fill="#e6471d"/>
<circle cx="994.2" cy="92.8" r="4.8" fill="#5135b5"/>
<circle cx="252.3" cy="686.5" r="4.8" fill="#d9b52a"/>
<circle cx="375.9" cy="652.8" r="4.8" fill="#5135b5"/>
<circle cx="499.8" cy="613.5" r="4.8" fill="#5fc5c3"/>
<circle cx="561.5" cy="631.1" r="4.8" fill="#d9b52a"/>
<circle cx="685.0" cy="610.6" r="4.8" fill="#5135b5"/>
<circle cx="809.0" cy="557.6" r="4.8" fill="#5fc5c3"/>
<circle cx="870.8" cy="552.6" r="4.8" fill="#d9b52a"/>
<circle cx="994.2" cy="577.8" r="4.8" fill="#5135b5"/>
<circle cx="994.2" cy="607.1" r="4.8" fill="#5135b5"/>
<circle cx="190.6" cy="1222.1" r="4.8" fill="#5fc5c3"/>
<circle cx="252.3" cy="1221.9" r="4.8" fill="#d9b52a"/>
<circle cx="314.1" cy="1211.3" r="4.8" fill="#e6471d"/>
<circle cx="375.9" cy="1161.7" r="4.8" fill="#5135b5"/>
<circle cx="499.8" cy="1149.2" r="4.8" fill="#5fc5c3"/>
<circle cx="561.5" cy="1157.3" r="4.8" fill="#d9b52a"/>
<circle cx="623.3" cy="1153" r="4.8" fill="#e6471d"/>
<circle cx="685.0" cy="1160.4" r="4.8" fill="#5135b5"/>
<circle cx="809.0" cy="1075.7" r="4.8" fill="#5fc5c3"/>
<circle cx="870.8" cy="1050.8" r="4.8" fill="#d9b52a"/>
<circle cx="932.5" cy="1096.5" r="4.8" fill="#e6471d"/>
<circle cx="994.2" cy="1068.6" r="4.8" fill="#5135b5"/>
<circle cx="1118.2" cy="1013" r="4.8" fill="#5fc5c3"/>
<circle cx="1179.9" cy="988.4" r="4.8" fill="#d9b52a"/>
<circle cx="1303.4" cy="1029.8" r="4.8" fill="#5135b5"/>
<circle cx="252.3" cy="1585.1" r="4.8" fill="#d9b52a"/>
<circle cx="499.8" cy="1566.9" r="4.8" fill="#5fc5c3"/>
<circle cx="623.3" cy="1584.6" r="4.8" fill="#e6471d"/>
<circle cx="685.0" cy="1597.1" r="4.8" fill="#5135b5"/>
<circle cx="809.0" cy="1494" r="4.8" fill="#5fc5c3"/>
<circle cx="994.2" cy="1526.8" r="4.8" fill="#5135b5"/>
<circle cx="1303.4" cy="1484.6" r="4.8" fill="#5135b5"/>
<circle cx="314.1" cy="2149.9" r="4.8" fill="#e6471d"/>
<circle cx="375.9" cy="2177.5" r="4.8" fill="#5135b5"/>
<circle cx="561.5" cy="2118.1" r="4.8" fill="#d9b52a"/>
<circle cx="623.3" cy="2130.3" r="4.8" fill="#e6471d"/>
<circle cx="685.0" cy="2178.3" r="4.8" fill="#5135b5"/>
<circle cx="809.0" cy="2007.7" r="4.8" fill="#5fc5c3"/>
<circle cx="870.8" cy="2068.5" r="4.8" fill="#d9b52a"/>
<circle cx="932.5" cy="2085.2" r="4.8" fill="#e6471d"/>
<circle cx="994.2" cy="2061.7" r="4.8" fill="#5135b5"/>
<circle cx="1118.2" cy="1954.3" r="4.8" fill="#5fc5c3"/>
<circle cx="1179.9" cy="1944.5" r="4.8" fill="#d9b52a"/>
<circle cx="1303.4" cy="2068.5" r="4.8" fill="#5135b5"/>
<text x="1118.2" y="20.5" text-anchor="middle" font-size="25" font-weight="bold" stroke="#e6471d" stroke-width="0.5" fill="#e6471d">#</text>
<text x="1241.7" y="46.1" text-anchor="middle" font-size="25" font-weight="bold" stroke="#5fc5c3" stroke-width="0.5" fill="#5fc5c3">#</text>
<text x="499.8" y="1548.7" text-anchor="middle" font-size="25" font-weight="bold" stroke="#5135b5" stroke-width="0.5" fill="#5135b5">#</text>
<text x="685.0" y="1581.4" text-anchor="middle" font-size="25" font-weight="bold" stroke="#5fc5c3" stroke-width="0.5" fill="#5fc5c3">#</text>
<text x="809.0" y="1477.9" text-anchor="middle" font-size="25" font-weight="bold" stroke="#5135b5" stroke-width="0.5" fill="#5135b5">#</text>
<text x="994.2" y="1510.4" text-anchor="middle" font-size="25" font-weight="bold" stroke="#5fc5c3" stroke-width="0.5" fill="#5fc5c3">#</text>
<text x="1104.7" y="1455.3" text-anchor="middle" font-size="25" font-weight="bold" stroke="#d9b52a" stroke-width="0.5" fill="#d9b52a">#</text>
<text x="1118.2" y="1455.3" text-anchor="middle" font-size="25" font-weight="bold" stroke="#e6471d" stroke-width="0.5" fill="#e6471d">#</text>
<text x="1131.7" y="1455.3" text-anchor="middle" font-size="25" font-weight="bold" stroke="#5135b5" stroke-width="0.5" fill="#5135b5">#</text>
<text x="1179.9" y="1452.9" text-anchor="middle" font-size="25" font-weight="bold" stroke="#5fc5c3" stroke-width="0.5" fill="#5fc5c3">#</text>
<text x="1241.7" y="1476.6" text-anchor="middle" font-size="25" font-weight="bold" stroke="#5fc5c3" stroke-width="0.5" fill="#5fc5c3">#</text>
<text x="1303.4" y="1467.4" text-anchor="middle" font-size="25" font-weight="bold" stroke="#5fc5c3" stroke-width="0.5" fill="#5fc5c3">#</text>
<text x="1118.2" y="1936.8" text-anchor="middle" font-size="25" font-weight="bold" stroke="#5135b5" stroke-width="0.5" fill="#5135b5">#</text>
<text x="1303.4" y="2051.2" text-anchor="middle" font-size="25" font-weight="bold" stroke="#5fc5c3" stroke-width="0.5" fill="#5fc5c3">#</text>
<text x="746.8" y="2375.2" text-anchor="middle" font-size="23.5" stroke="#000" stroke-width="0.75" fill="#000">Stage</text>
<text x="651.4" y="2440.9" text-anchor="end" font-size="23" fill="#000">Test day</text>
<g stroke="#5fc5c3" fill="none" stroke-width="2.2"><rect x="667.7" y="2422.9" width="27.4" height="18.5"/><line x1="681.4" y1="2417.7" x2="681.4" y2="2422.9"/><line x1="681.4" y1="2441.4" x2="681.4" y2="2446.3"/><line x1="667.7" y1="2432.1" x2="695.1" y2="2432.1"/></g>
<text x="716.1" y="2439.8" text-anchor="middle" font-size="20" fill="#000">1</text>
<g stroke="#d9b52a" fill="none" stroke-width="2.2"><rect x="737.5" y="2422.9" width="27.4" height="18.5"/><line x1="751.2" y1="2417.7" x2="751.2" y2="2422.9"/><line x1="751.2" y1="2441.4" x2="751.2" y2="2446.3"/><line x1="737.5" y1="2432.1" x2="764.9" y2="2432.1"/></g>
<text x="785.9" y="2439.8" text-anchor="middle" font-size="20" fill="#000">2</text>
<g stroke="#e6471d" fill="none" stroke-width="2.2"><rect x="807.3" y="2422.9" width="27.4" height="18.5"/><line x1="821.0" y1="2417.7" x2="821.0" y2="2422.9"/><line x1="821.0" y1="2441.4" x2="821.0" y2="2446.3"/><line x1="807.3" y1="2432.1" x2="834.7" y2="2432.1"/></g>
<text x="855.7" y="2439.8" text-anchor="middle" font-size="20" fill="#000">3</text>
<g stroke="#5135b5" fill="none" stroke-width="2.2"><rect x="877.1" y="2422.9" width="27.4" height="18.5"/><line x1="890.8" y1="2417.7" x2="890.8" y2="2422.9"/><line x1="890.8" y1="2441.4" x2="890.8" y2="2446.3"/><line x1="877.1" y1="2432.1" x2="904.5" y2="2432.1"/></g>
<text x="925.5" y="2439.8" text-anchor="middle" font-size="20" fill="#000">4</text>
<text x="651.4" y="2494.2" text-anchor="end" font-size="24" stroke="#000" stroke-width="0.75" fill="#000">Significantly different from</text>
<text x="681.4" y="2494.8" text-anchor="middle" font-size="27" font-weight="bold" stroke="#5fc5c3" stroke-width="0.7" fill="#5fc5c3">#</text>
<text x="751.1" y="2494.8" text-anchor="middle" font-size="27" font-weight="bold" stroke="#d9b52a" stroke-width="0.7" fill="#d9b52a">#</text>
<text x="820.6" y="2494.8" text-anchor="middle" font-size="27" font-weight="bold" stroke="#e6471d" stroke-width="0.7" fill="#e6471d">#</text>
<text x="891.4" y="2494.8" text-anchor="middle" font-size="27" font-weight="bold" stroke="#5135b5" stroke-width="0.7" fill="#5135b5">#</text>
</svg></body></html>
